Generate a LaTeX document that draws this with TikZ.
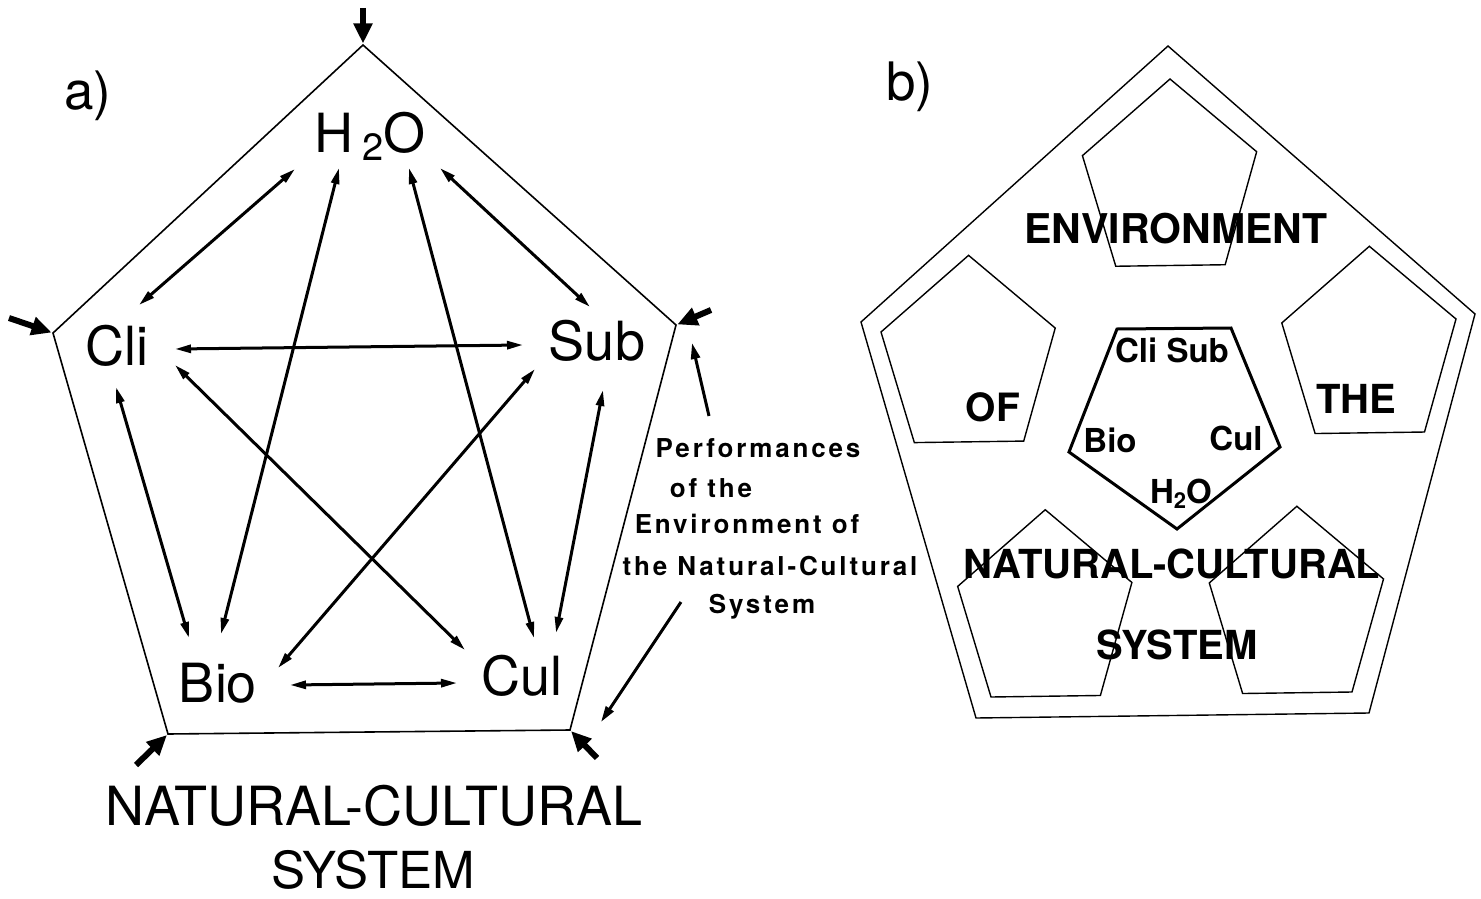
\documentclass[tikz,border=0pt]{standalone}
\usepackage{fontspec}
\setmainfont{TeX Gyre Heros}
\usetikzlibrary{arrows.meta,calc}
\tikzset{
  lbl/.style={anchor=base,inner sep=0pt,font=\fontsize{54}{60}\selectfont},
  title/.style={anchor=base,inner sep=0pt,font=\fontsize{53}{60}\selectfont},
  bigcap/.style={anchor=base,inner sep=0pt,font=\fontsize{51}{60}\selectfont},
  perfline/.style={anchor=base,inner sep=0pt,font=\fontsize{26}{30}\selectfont\bfseries\addfontfeatures{LetterSpace=11}},
  blbl/.style={anchor=base,inner sep=0pt,font=\fontsize{40}{44}\selectfont\bfseries},
  clbl/.style={anchor=base,inner sep=0pt,font=\fontsize{33}{36}\selectfont\bfseries},
  link/.style={line width=3pt,{Triangle[length=16pt,width=8pt]}-{Triangle[length=16pt,width=8pt]}},
  vtx/.style={line width=6pt,-{Triangle[length=20pt,width=18pt]},shorten >=1.5pt},
  ptr/.style={line width=3pt,-{Triangle[length=16pt,width=9pt]}},
  frame/.style={line width=1.6pt,line join=miter},
  thinframe/.style={line width=1.4pt,line join=miter},
  core/.style={line width=3pt,line join=miter},
}
\begin{document}
\begin{tikzpicture}[x=1pt,y=-1pt]
\useasboundingbox (0,0) rectangle (1481,899);

% ---------- panel a ----------
\node[title] (la) at (88,110) {a)};
\coordinate (A1) at (363,45);
\coordinate (A2) at (676,325);
\coordinate (A3) at (570,730);
\coordinate (A4) at (168,734);
\coordinate (A5) at (53,333);
\draw[frame] (A1) -- (A2) -- (A3) -- (A4) -- (A5) -- cycle;

\node[lbl] (H2O) at (370,152) {H\,\raisebox{-8pt}{\fontsize{38}{38}\selectfont 2}O};
\node[lbl] (Cli) at (117,365) {Cli};
\node[lbl] (Sub) at (597,360) {Sub};
\node[lbl] (Bio) at (218,702) {Bio};
\node[lbl] (Cul) at (522,695) {Cul};

\draw[link] ([shift={(-75,17)}]H2O.base) -- ([shift={(22,-60)}]Cli.base);
\draw[link] ([shift={(-31,16)}]H2O.base) -- ([shift={(3,-68)}]Bio.base);
\draw[link] ([shift={(39,16)}]H2O.base) -- ([shift={(12,-57)}]Cul.base);
\draw[link] ([shift={(70,16)}]H2O.base) -- ([shift={(-7,-53)}]Sub.base);
\draw[link] ([shift={(58,-16)}]Cli.base) -- ([shift={(-74,-15)}]Sub.base);
\draw[link] ([shift={(58,0)}]Cli.base) -- ([shift={(-57,-45)}]Cul.base);
\draw[link] ([shift={(-62,9)}]Sub.base) -- ([shift={(60,-34)}]Bio.base);
\draw[link] ([shift={(-1,22)}]Cli.base) -- ([shift={(-29,-64)}]Bio.base);
\draw[link] ([shift={(6,30)}]Sub.base) -- ([shift={(34,-62)}]Cul.base);
\draw[link] ([shift={(72,-17)}]Bio.base) -- ([shift={(-65,-12)}]Cul.base);

\coordinate (tA1) at (363,8);
\coordinate (tA2) at (711,310);
\coordinate (tA3) at (597,758);
\coordinate (tA4) at (136,765);
\coordinate (tA5) at (9,318);
\draw[vtx] (tA1) -- (A1);
\draw[vtx] (tA2) -- (A2);
\draw[vtx] (tA3) -- (A3);
\draw[vtx] (tA4) -- (A4);
\draw[vtx] (tA5) -- (A5);

\node[bigcap,font=\fontsize{54}{60}\selectfont] (ncs1) at (374,825) {NATURAL-CULTURAL};
\node[bigcap] (ncs2) at (373,888) {SYSTEM};

\node[perfline] (perf1) at (758,457) {Performances};
\node[perfline] (perf2) at (711,497) {of the};
\node[perfline] (perf3) at (747,533) {Environment of};
\node[perfline] (perf4) at (770,575) {the Natural-Cultural};
\node[perfline] (perf5) at (762,613) {System};
\coordinate (perfUp) at (692,343);
\coordinate (perfDown) at (601,722);
\draw[ptr] ([shift={(-49,-41)}]perf1.base) -- (perfUp);
\draw[ptr] ([shift={(-81,-11)}]perf5.base) -- (perfDown);

% ---------- panel b ----------
\node[title] (lb) at (910,100) {b)};
\coordinate (O1) at (1168,46);
\coordinate (O2) at (1475,314);
\coordinate (O3) at (1369,713);
\coordinate (O4) at (976,718);
\coordinate (O5) at (861,322);
\draw[thinframe] (O1) -- (O2) -- (O3) -- (O4) -- (O5) -- cycle;
% reference corners for the five small pentagons (not drawn)
\coordinate (I1) at (1170,79);
\coordinate (I2) at (1456,319);
\coordinate (I3) at (1352,692);
\coordinate (I4) at (991,697);
\coordinate (I5) at (881,332);
\foreach \k in {1,...,5}{
  \draw[thinframe] ($(I\k)!0.303!(I1)$) -- ($(I\k)!0.303!(I2)$) -- ($(I\k)!0.303!(I3)$)
    -- ($(I\k)!0.303!(I4)$) -- ($(I\k)!0.303!(I5)$) -- cycle;
}
\coordinate (C1) at (1117,329);
\coordinate (C2) at (1231,328);
\coordinate (C3) at (1280,447);
\coordinate (C4) at (1177,529);
\coordinate (C5) at (1069,452);
\draw[core] (C1) -- (C2) -- (C3) -- (C4) -- (C5) -- cycle;

\node[clbl] (bCS) at (1172,362) {Cli Sub};
\node[clbl] (bBio) at (1110,452) {Bio};
\node[clbl] (bCul) at (1236,450) {Cul};
\node[clbl] (bH2O) at (1181,503) {H\raisebox{-5pt}{\fontsize{22}{22}\selectfont 2}O};

\node[blbl,font=\fontsize{41}{44}\selectfont\bfseries] (env) at (1176,243) {ENVIRONMENT};
\node[blbl,font=\fontsize{39}{44}\selectfont\bfseries] (of) at (993,421) {OF};
\node[blbl] (the) at (1356,413) {THE};
\node[blbl] (bnc) at (1172,578) {NATURAL-CULTURAL};
\node[blbl] (bsys) at (1177,659) {SYSTEM};
\end{tikzpicture}
\end{document}
